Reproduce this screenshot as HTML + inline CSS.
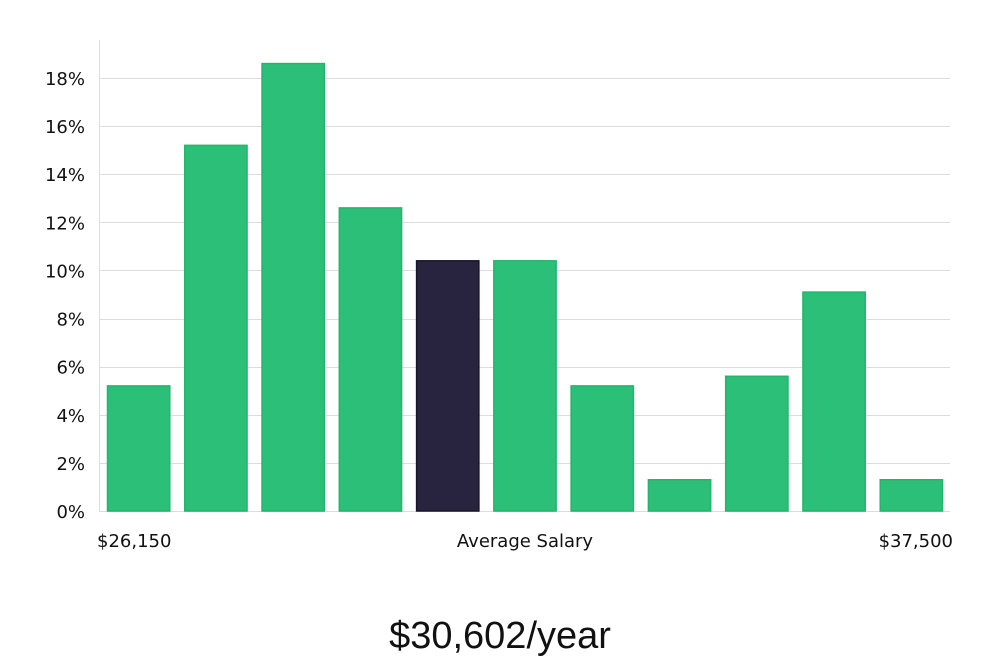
<!DOCTYPE html>
<html><head><meta charset="utf-8"><style>
body{margin:0;background:#fff;width:1000px;height:660px;overflow:hidden;font-family:"DejaVu Sans","Liberation Sans",sans-serif;}
svg text{fill:#111;}
</style></head><body>
<svg id="chart" width="1000" height="660" viewBox="0 0 1000 660">
<g id="grid"></g>
<g id="yticks"></g>
<g id="bars"></g>
<line x1="99.5" y1="40" x2="99.5" y2="512" stroke="#ddd" stroke-width="1"/>
<text x="97" y="547" font-size="18">$26,150</text>
<text x="525" y="547" font-size="18" text-anchor="middle">Average Salary</text>
<text x="953" y="547" font-size="18" text-anchor="end">$37,500</text>
<text x="500" y="648" font-size="38" font-family="Liberation Sans, sans-serif" text-anchor="middle" style="font-weight:300;fill:#111">$30,602/year</text>
</svg>
<script>
const categories=["b1","b2","b3","b4","b5","b6","b7","b8","b9","b10","b11"];
const values=[5.2,15.2,18.6,12.6,10.4,10.4,5.2,1.3,5.6,9.1,1.3];
const highlightIndex=[4];
const yTicks=[0,2,4,6,8,10,12,14,16,18];
const NS="http://www.w3.org/2000/svg";
const x0=100,x1=950,yBase=511,yTop=78,yMax=18;
function y(v){return yBase-(v/yMax)*(yBase-yTop);}
const band=(x1-x0)/categories.length;
function x(i){return x0+i*band;}
const grid=document.getElementById('grid'),yt=document.getElementById('yticks'),bars=document.getElementById('bars');
yTicks.forEach(t=>{
  const l=document.createElementNS(NS,'line');
  
  
  l.setAttribute('x1',x0);l.setAttribute('x2',x1);
  l.setAttribute('y1',Math.round(y(t))+0.5);l.setAttribute('y2',Math.round(y(t))+0.5);
  l.setAttribute('stroke','#dcdcdc');
  grid.appendChild(l);
  const tx=document.createElementNS(NS,'text');
  
  
  tx.setAttribute('x',85);tx.setAttribute('y',y(t)+7);
  tx.setAttribute('text-anchor','end');tx.setAttribute('font-size','18');
  tx.textContent=t+'%';
  yt.appendChild(tx);
});
values.forEach((v,i)=>{
  const r=document.createElementNS(NS,'rect');
  
  
  const hi=highlightIndex.includes(i);
  r.setAttribute('x',x(i)+7.5);r.setAttribute('width',band-15);
  r.setAttribute('y',y(v));r.setAttribute('height',yBase-y(v));
  r.setAttribute('fill',hi?'#28243f':'#2bbf78');
  r.setAttribute('stroke',hi?'#17142b':'#22b56b');
  r.setAttribute('stroke-width','1.5');
  bars.appendChild(r);
});
</script>
</body></html>
